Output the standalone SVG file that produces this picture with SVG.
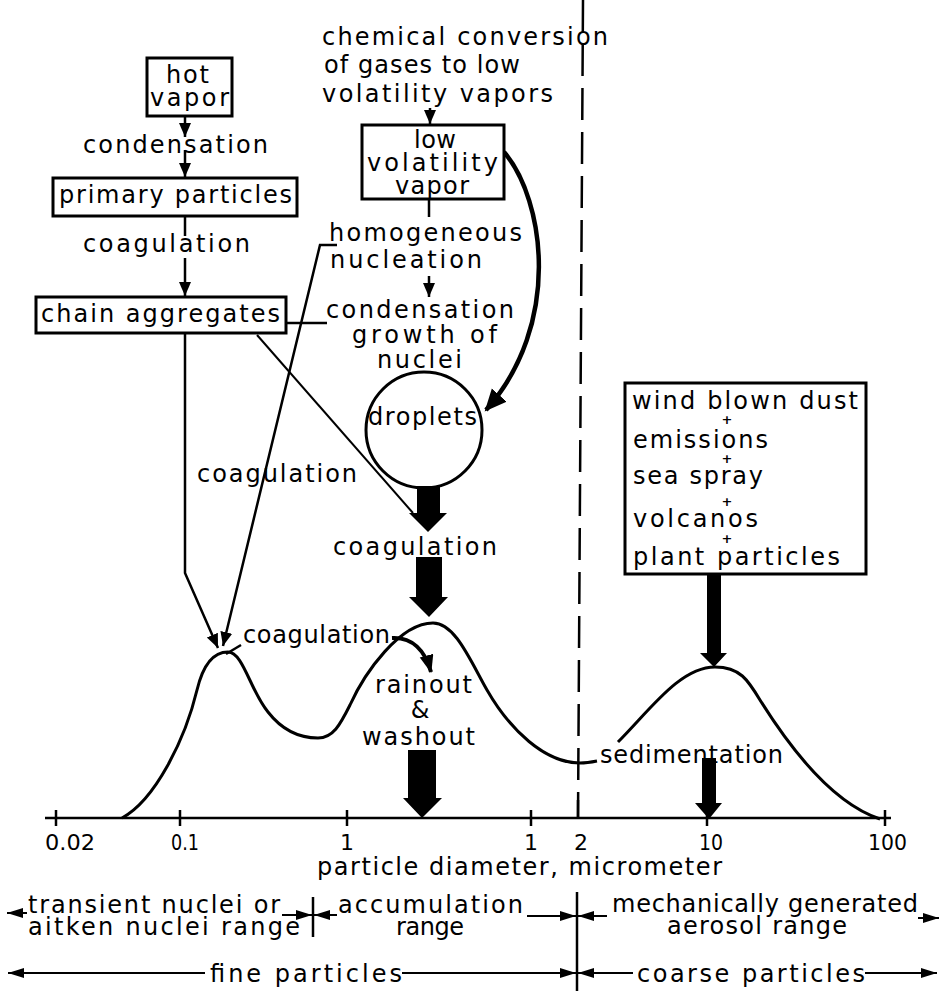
<svg xmlns="http://www.w3.org/2000/svg" width="941" height="991" viewBox="0 0 941 991">
<style>
text{font-family:"DejaVu Sans","Liberation Sans",sans-serif;font-size:24px;fill:#000}
.num{font-size:22px}
.plus{font-size:13px;font-weight:bold}
.box{fill:#fff;stroke:#000;stroke-width:3}
.ln{fill:none;stroke:#000;stroke-width:2.5}
.thin{fill:none;stroke:#000;stroke-width:2}
.curve{fill:none;stroke:#000;stroke-width:3}
.fat{fill:#000;stroke:none}
</style>
<defs>
<marker id="ah" markerUnits="userSpaceOnUse" markerWidth="16" markerHeight="14" refX="14" refY="6" orient="auto"><path d="M0,0 L14,6 L0,12 Z"/></marker>
<marker id="ra" markerUnits="userSpaceOnUse" markerWidth="18" markerHeight="12" refX="16" refY="5" orient="auto"><path d="M0,0 L16,5 L0,10 Z"/></marker>
<marker id="big" markerUnits="userSpaceOnUse" markerWidth="24" markerHeight="22" refX="20" refY="10" orient="auto"><path d="M0,0 L22,10 L0,20 Z"/></marker>
<marker id="mid" markerUnits="userSpaceOnUse" markerWidth="20" markerHeight="16" refX="17" refY="7" orient="auto"><path d="M0,0 L18,7 L0,14 Z"/></marker>
</defs>
<rect width="941" height="991" fill="#fff"/>

<!-- dashed divider -->
<g id="divider">
<line x1="583" y1="0" x2="578" y2="818" stroke="#000" stroke-width="2.5" stroke-dasharray="32 12"/>
<line x1="577" y1="892" x2="577" y2="991" stroke="#000" stroke-width="2.5"/>
</g>

<!-- connectors -->
<g id="connectors">
<line class="ln" x1="185" y1="116" x2="185" y2="137" marker-end="url(#ah)"/>
<line class="ln" x1="185" y1="150" x2="185" y2="177" marker-end="url(#ah)"/>
<line class="ln" x1="185" y1="216" x2="185" y2="236"/>
<line class="ln" x1="185" y1="258" x2="185" y2="296" marker-end="url(#ah)"/>
<polyline class="ln" points="185,333 185,573 218,648" marker-end="url(#ah)"/>
<line class="ln" x1="286" y1="323" x2="327" y2="323"/>
<polyline class="ln" points="337,245 320,245 223,646" marker-end="url(#ah)"/>
<line class="thin" x1="257" y1="335" x2="413" y2="513"/>
<line class="ln" x1="430" y1="108" x2="430" y2="124" marker-end="url(#ah)"/>
<line class="ln" x1="429" y1="199" x2="429" y2="217"/>
<line class="ln" x1="429" y1="276" x2="429" y2="297" marker-end="url(#ah)"/>
<path d="M504,152 C545,200 562,325 486,410" fill="none" stroke="#000" stroke-width="4.5" marker-end="url(#big)"/>
<line class="ln" x1="226" y1="654" x2="241" y2="645"/>
<path d="M392,638 C412,637 425,650 431,672" fill="none" stroke="#000" stroke-width="4" marker-end="url(#mid)"/>
<polygon class="fat" points="417,486 440,486 440,513 447,513 428,532 409,513 417,513"/>
<polygon class="fat" points="416,557 442,557 442,597 448,597 429,617 409,597 416,597"/>
<polygon class="fat" points="408,750 436,750 436,798 442,798 422,818 403,798 408,798"/>
<polygon class="fat" points="707,574 721,574 721,653 727,653 714,667 700,653 707,653"/>
<polygon class="fat" points="702,758 716,758 716,803 722,803 709,819 695,803 702,803"/>
</g>

<!-- size distribution curve -->
<g id="curve">
<path class="curve" d="M122,818 C155,800 185,740 197,690 C203,665 213,652 228,652 C243,652 250,690 268,712 C282,730 300,738 318,738 C333,738 340,725 350,705 C365,672 400,623 433,623 C455,623 470,660 487,690 C510,730 545,763 580,763 C587,763 592,762 597,761"/>
<path class="curve" d="M618,742 C650,710 680,667 715,667 C740,667 748,680 760,700 C790,748 832,803 880,819"/>
</g>

<!-- nodes -->
<g id="hot-vapor">
<rect class="box" x="147" y="58" width="85" height="58"/>
<text x="166" y="83" textLength="43" lengthAdjust="spacing">hot</text>
<text x="150" y="106" textLength="79" lengthAdjust="spacing">vapor</text>
</g>
<g id="label-condensation1"><text x="83" y="153" textLength="185" lengthAdjust="spacing">condensation</text></g>
<g id="primary-particles">
<rect class="box" x="53" y="178" width="244" height="38"/>
<text x="59" y="203" textLength="233" lengthAdjust="spacing">primary particles</text>
</g>
<g id="label-coagulation1"><text x="83" y="252" textLength="167" lengthAdjust="spacing">coagulation</text></g>
<g id="chain-aggregates">
<rect class="box" x="36" y="297" width="250" height="36"/>
<text x="41" y="322" textLength="239" lengthAdjust="spacing">chain aggregates</text>
</g>
<g id="chemical-conversion">
<text x="322" y="45" textLength="286" lengthAdjust="spacing">chemical conversion</text>
<text x="324" y="73" textLength="196" lengthAdjust="spacing">of gases to low</text>
<text x="322" y="102" textLength="231" lengthAdjust="spacing">volatility vapors</text>
</g>
<g id="low-volatility-vapor">
<rect class="box" x="362" y="125" width="142" height="74"/>
<text x="414" y="148" textLength="42" lengthAdjust="spacing">low</text>
<text x="367" y="171" textLength="131" lengthAdjust="spacing">volatility</text>
<text x="395" y="194" textLength="74" lengthAdjust="spacing">vapor</text>
</g>
<g id="homogeneous-nucleation">
<text x="329" y="241" textLength="193" lengthAdjust="spacing">homogeneous</text>
<text x="330" y="268" textLength="152" lengthAdjust="spacing">nucleation</text>
</g>
<g id="condensation-growth">
<text x="326" y="318" textLength="188" lengthAdjust="spacing">condensation</text>
<text x="352" y="343" textLength="145" lengthAdjust="spacing">growth of</text>
<text x="377" y="368" textLength="85" lengthAdjust="spacing">nuclei</text>
</g>
<g id="droplets">
<circle cx="424" cy="430" r="58" fill="none" stroke="#000" stroke-width="3"/>
<text x="368" y="425" textLength="109" lengthAdjust="spacing">droplets</text>
</g>
<g id="label-coagulation2"><text x="197" y="482" textLength="160" lengthAdjust="spacing">coagulation</text></g>
<g id="label-coagulation3"><text x="333" y="555" textLength="164" lengthAdjust="spacing">coagulation</text></g>
<g id="label-coagulation4"><text x="243" y="643" textLength="147" lengthAdjust="spacing">coagulation</text></g>
<g id="rainout-washout">
<text x="375" y="693" textLength="97" lengthAdjust="spacing">rainout</text>
<text x="420" y="718" text-anchor="middle">&amp;</text>
<text x="362" y="745" textLength="113" lengthAdjust="spacing">washout</text>
</g>
<g id="sedimentation"><text x="600" y="763" textLength="183" lengthAdjust="spacing">sedimentation</text></g>
<g id="coarse-sources">
<rect class="box" x="625" y="383" width="241" height="191"/>
<text x="632" y="409" textLength="226" lengthAdjust="spacing">wind blown dust</text>
<text class="plus" x="727" y="424" text-anchor="middle">+</text>
<text x="633" y="448" textLength="135" lengthAdjust="spacing">emissions</text>
<text class="plus" x="727" y="463" text-anchor="middle">+</text>
<text x="633" y="484" textLength="130" lengthAdjust="spacing">sea spray</text>
<text class="plus" x="727" y="506" text-anchor="middle">+</text>
<text x="633" y="527" textLength="125" lengthAdjust="spacing">volcanos</text>
<text class="plus" x="727" y="543" text-anchor="middle">+</text>
<text x="633" y="565" textLength="207" lengthAdjust="spacing">plant particles</text>
</g>

<!-- axis -->
<g id="axis">
<line x1="45" y1="818" x2="891" y2="818" stroke="#000" stroke-width="2.5"/>
<g stroke="#000" stroke-width="2.5">
<line x1="56" y1="810" x2="56" y2="826"/>
<line x1="180" y1="810" x2="180" y2="826"/>
<line x1="347" y1="810" x2="347" y2="826"/>
<line x1="531" y1="810" x2="531" y2="826"/>
<line x1="578" y1="800" x2="578" y2="818"/>
<line x1="707" y1="810" x2="707" y2="826"/>
<line x1="885" y1="810" x2="885" y2="826"/>
</g>
<text class="num" x="45" y="850" textLength="50" lengthAdjust="spacingAndGlyphs">0.02</text>
<text class="num" x="171" y="850" textLength="28" lengthAdjust="spacingAndGlyphs">0.1</text>
<text class="num" x="347" y="850" text-anchor="middle">1</text>
<text class="num" x="531" y="850" text-anchor="middle">1</text>
<text class="num" x="581" y="850" text-anchor="middle">2</text>
<text class="num" x="699" y="850" textLength="24" lengthAdjust="spacingAndGlyphs">10</text>
<text class="num" x="868" y="850" textLength="39" lengthAdjust="spacingAndGlyphs">100</text>
<text x="317" y="875" textLength="405" lengthAdjust="spacing">particle diameter, micrometer</text>
</g>

<!-- ranges -->
<g id="range-nuclei">
<line class="thin" x1="27" y1="913" x2="7" y2="913" marker-end="url(#ra)"/>
<text x="28" y="913" textLength="252" lengthAdjust="spacing">transient nuclei or</text>
<text x="28" y="935" textLength="272" lengthAdjust="spacing">aitken nuclei range</text>
<line class="thin" x1="282" y1="915" x2="312" y2="915" marker-end="url(#ra)"/>
<line x1="313" y1="897" x2="313" y2="937" stroke="#000" stroke-width="2.5"/>
</g>
<g id="range-accumulation">
<line class="thin" x1="337" y1="915" x2="314" y2="915" marker-end="url(#ra)"/>
<text x="338" y="913" textLength="185" lengthAdjust="spacing">accumulation</text>
<text x="430" y="935" text-anchor="middle" textLength="68" lengthAdjust="spacing">range</text>
<line class="thin" x1="527" y1="916" x2="576" y2="916" marker-end="url(#ra)"/>
</g>
<g id="range-mechanical">
<line class="thin" x1="607" y1="916" x2="578" y2="916" marker-end="url(#ra)"/>
<text x="612" y="912" textLength="306" lengthAdjust="spacing">mechanically generated</text>
<text x="667" y="934" textLength="180" lengthAdjust="spacing">aerosol range</text>
<line class="thin" x1="918" y1="918" x2="939" y2="918" marker-end="url(#ra)"/>
</g>
<g id="range-fine">
<line class="thin" x1="205" y1="973" x2="8" y2="973" marker-end="url(#ra)"/>
<text x="210" y="982" textLength="192" lengthAdjust="spacing">fine particles</text>
<line class="thin" x1="402" y1="973" x2="576" y2="973" marker-end="url(#ra)"/>
</g>
<g id="range-coarse">
<line class="thin" x1="633" y1="973" x2="578" y2="973" marker-end="url(#ra)"/>
<text x="637" y="982" textLength="228" lengthAdjust="spacing">coarse particles</text>
<line class="thin" x1="865" y1="973" x2="937" y2="973" marker-end="url(#ra)"/>
</g>
</svg>
